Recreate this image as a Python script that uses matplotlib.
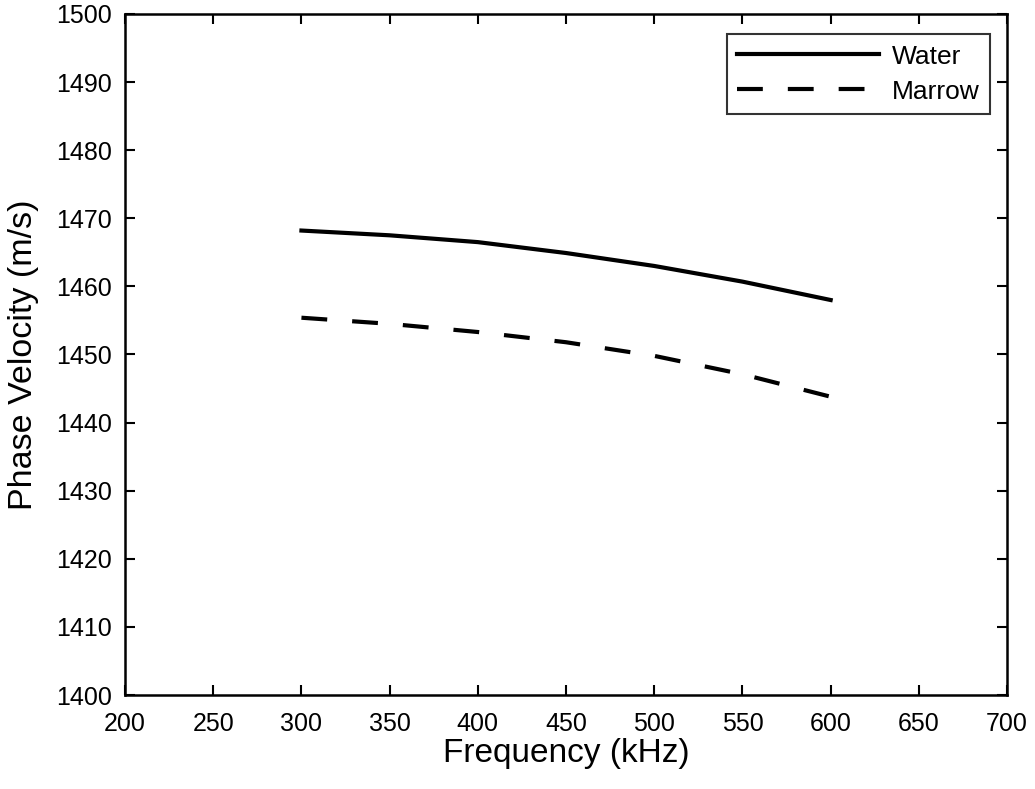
import matplotlib.pyplot as plt

plt.rcParams['font.family'] = ['Liberation Sans', 'DejaVu Sans']

freq = [300, 350, 400, 450, 500, 550, 600]
water = [1468.2, 1467.5, 1466.5, 1464.9, 1463.0, 1460.7, 1458.0]
marrow = [1455.4, 1454.5, 1453.3, 1451.8, 1449.8, 1447.1, 1443.8]

fig = plt.figure(figsize=(10.35, 7.89), dpi=100)
ax = fig.add_axes([0.1208, 0.1191, 0.8522, 0.8632])

ax.plot(freq, water, color='black', linewidth=3, label='Water')
ax.plot(freq, marrow, color='black', linewidth=3, linestyle=(0, (6.2, 6)), label='Marrow')

ax.set_xlim(200, 700)
ax.set_ylim(1400, 1500)
ax.set_xticks(range(200, 701, 50))
ax.set_yticks(range(1400, 1501, 10))
ax.tick_params(direction='in', length=7, width=1.5, labelsize=18, top=True, right=True)
ax.tick_params(axis='x', pad=12)
ax.tick_params(axis='y', pad=9.5)
for s in ax.spines.values():
    s.set_linewidth(1.8)

ax.set_xlabel('Frequency (kHz)', fontsize=24, labelpad=2)
ax.set_ylabel('Phase Velocity (m/s)', fontsize=24.5, labelpad=12)

leg = ax.legend(loc='upper right', bbox_to_anchor=(0.9807, 0.9706), fontsize=19, frameon=True,
                fancybox=False, edgecolor='black', handlelength=5.35, handletextpad=0.5,
                borderpad=0.4, labelspacing=0.42, borderaxespad=0)
leg.get_frame().set_linewidth(1.5)

fig.savefig('out.png', dpi=100)
